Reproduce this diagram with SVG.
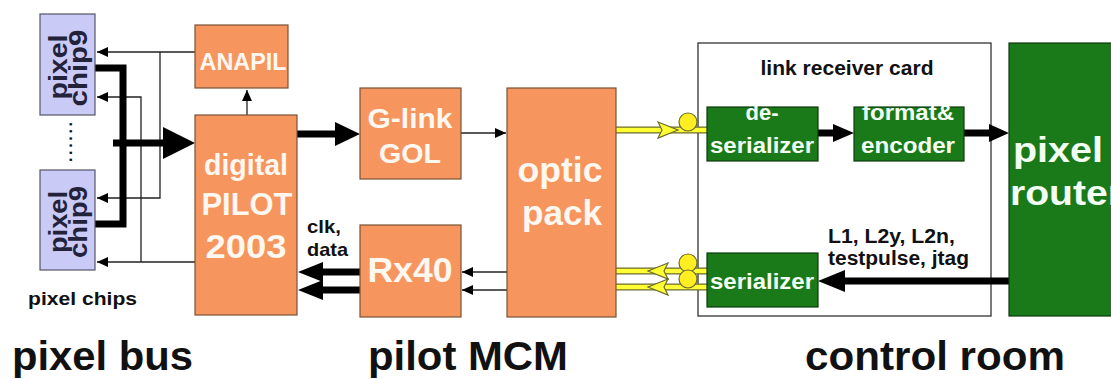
<svg xmlns="http://www.w3.org/2000/svg" width="1111" height="379" viewBox="0 0 1111 379">
<style>
text{font-family:"Liberation Sans",Arial,sans-serif;font-weight:bold}
.chip{fill:#cacaf6;stroke:#55556a;stroke-width:1.2}
.chipt{fill:#22223a;font-size:26px}
.org{fill:#f7955f;stroke:#7a5236;stroke-width:1.2}
.grn{fill:#1a7a1a;stroke:#0c3a0c;stroke-width:1.2}
.wt{fill:#fff8f0;text-anchor:middle}
.gt{fill:#f4fff4;text-anchor:middle}
.bk{fill:#111}
.thin{stroke:#222;stroke-width:1.3;fill:none}
.thick{stroke:#000;stroke-width:7;fill:none}
.ah{fill:#000}
.yo{stroke:#6b6b30;stroke-width:7;fill:none}
.yi{stroke:#ffff33;stroke-width:4.5;fill:none}
.yh{fill:#ffff33;stroke:#6b6b30;stroke-width:1.2}
.yc{fill:#ffee22;stroke:#6b6b30;stroke-width:1.2}
</style>
<defs>
<marker id="a" markerUnits="userSpaceOnUse" markerWidth="12" markerHeight="12" refX="11" refY="6" orient="auto">
<path d="M0,1 L11,6 L0,11 z" fill="#000"/>
</marker>
</defs>
<rect width="1111" height="379" fill="#fff"/>

<g id="link-receiver-card">
<rect x="698" y="43" width="293" height="273" fill="#fff" stroke="#333" stroke-width="1.3"/>
<text x="847" y="75" font-size="20" text-anchor="middle" textLength="173" lengthAdjust="spacingAndGlyphs" class="bk">link receiver card</text>
</g>

<g id="connectors">
<!-- pixel bus thin control lines -->
<polyline class="thin" points="195,52 97,52" marker-end="url(#a)"/>
<polyline class="thin" points="160,52 160,198 97,198" marker-end="url(#a)"/>
<polyline class="thin" points="195,262 97,262" marker-end="url(#a)"/>
<polyline class="thin" points="141,262 141,97 97,97" marker-end="url(#a)"/>
<!-- thick data bus -->
<polyline class="thick" points="95,68 123,68 123,224 95,224"/>
<line class="thick" x1="113" y1="143" x2="166" y2="143"/>
<polygon class="ah" points="163,127 195,143 163,159"/>
<!-- digital -> ANAPIL -->
<line class="thin" x1="247" y1="115" x2="247" y2="90" marker-end="url(#a)"/>
<!-- digital -> G-link -->
<line class="thick" x1="297" y1="134" x2="337" y2="134"/>
<polygon class="ah" points="335,122 360,134 335,146"/>
<!-- G-link -> optic -->
<line class="thin" x1="461" y1="133" x2="506" y2="133" marker-end="url(#a)"/>
<!-- optic -> Rx40 -->
<line class="thin" x1="507" y1="272" x2="462" y2="272" marker-end="url(#a)"/>
<line class="thin" x1="507" y1="290" x2="462" y2="290" marker-end="url(#a)"/>
<!-- Rx40 -> digital -->
<line class="thick" x1="360" y1="272" x2="320" y2="272"/>
<polygon class="ah" points="323,262 298,272 323,282"/>
<line class="thick" x1="360" y1="290" x2="320" y2="290"/>
<polygon class="ah" points="323,280 298,290 323,300"/>
<!-- optic fibres -->
<line class="yo" x1="616" y1="130" x2="707" y2="130"/>
<line class="yi" x1="616" y1="130" x2="707" y2="130"/>
<polygon class="yh" points="658,122 678,130 658,138 662,130"/>
<circle class="yc" cx="688" cy="122" r="9"/>
<line class="yo" x1="616" y1="271" x2="707" y2="271"/>
<line class="yi" x1="616" y1="271" x2="707" y2="271"/>
<line class="yo" x1="616" y1="287" x2="707" y2="287"/>
<line class="yi" x1="616" y1="287" x2="707" y2="287"/>
<polygon class="yh" points="668,263 648,271 668,279 664,271"/>
<polygon class="yh" points="668,279 648,287 668,295 664,287"/>
<circle class="yc" cx="688" cy="263" r="9"/>
<circle class="yc" cx="688" cy="279" r="9"/>
<!-- deserializer -> format -->
<line class="thick" x1="818" y1="133" x2="836" y2="133"/>
<polygon class="ah" points="833,124 854,133 833,142"/>
<!-- format -> router -->
<line class="thick" x1="964" y1="133" x2="992" y2="133"/>
<polygon class="ah" points="989,124 1009,133 989,142"/>
<!-- router -> serializer -->
<line class="thick" x1="1009" y1="281" x2="842" y2="281"/>
<polygon class="ah" points="845,270 818,281 845,292"/>
</g>

<g id="chip1">
<rect class="chip" x="40" y="14" width="55" height="101"/>
<text class="chipt" transform="translate(67,67) rotate(-90)" text-anchor="middle" textLength="65" lengthAdjust="spacingAndGlyphs">pixel</text>
<text class="chipt" transform="translate(87,68) rotate(-90)" text-anchor="middle" textLength="77" lengthAdjust="spacingAndGlyphs">chip9</text>
</g>
<g id="dots">
<text class="bk" font-size="16" transform="translate(72,142) rotate(-90)" text-anchor="middle" textLength="40" lengthAdjust="spacing">......</text>
</g>
<g id="chip2">
<rect class="chip" x="40" y="170" width="55" height="100"/>
<text class="chipt" transform="translate(67,222) rotate(-90)" text-anchor="middle" textLength="62" lengthAdjust="spacingAndGlyphs">pixel</text>
<text class="chipt" transform="translate(87,222) rotate(-90)" text-anchor="middle" textLength="72" lengthAdjust="spacingAndGlyphs">chip9</text>
</g>
<g id="pixel-chips-label">
<text class="bk" x="28" y="305" font-size="18" textLength="109" lengthAdjust="spacingAndGlyphs">pixel chips</text>
</g>

<g id="anapil">
<rect class="org" x="195" y="25" width="93" height="63"/>
<text class="wt" x="243" y="70" font-size="24" textLength="87" lengthAdjust="spacingAndGlyphs">ANAPIL</text>
</g>
<g id="digital-pilot">
<rect class="org" x="195" y="115" width="102" height="200"/>
<text class="wt" x="246" y="175" font-size="29" textLength="84" lengthAdjust="spacingAndGlyphs">digital</text>
<text class="wt" x="247" y="215" font-size="32" textLength="91" lengthAdjust="spacingAndGlyphs">PILOT</text>
<text class="wt" x="246" y="258" font-size="34" textLength="81" lengthAdjust="spacingAndGlyphs">2003</text>
</g>
<g id="clk-label">
<text class="bk" x="307" y="233" font-size="19" textLength="34" lengthAdjust="spacingAndGlyphs">clk,</text>
<text class="bk" x="307" y="256" font-size="19" textLength="41" lengthAdjust="spacingAndGlyphs">data</text>
</g>
<g id="glink">
<rect class="org" x="360" y="88" width="101" height="91"/>
<text class="wt" x="410" y="128" font-size="28" textLength="85" lengthAdjust="spacingAndGlyphs">G-link</text>
<text class="wt" x="410" y="163" font-size="28" textLength="62" lengthAdjust="spacingAndGlyphs">GOL</text>
</g>
<g id="rx40">
<rect class="org" x="360" y="225" width="101" height="92"/>
<text class="wt" x="410" y="282" font-size="35" textLength="85" lengthAdjust="spacingAndGlyphs">Rx40</text>
</g>
<g id="optic-pack">
<rect class="org" x="507" y="88" width="109" height="229"/>
<text class="wt" x="560" y="182" font-size="35" textLength="85" lengthAdjust="spacingAndGlyphs">optic</text>
<text class="wt" x="562" y="225" font-size="35" textLength="80" lengthAdjust="spacingAndGlyphs">pack</text>
</g>

<g id="deserializer">
<rect class="grn" x="707" y="107" width="111" height="54"/>
<text class="gt" x="762" y="120" font-size="22">de-</text>
<text class="gt" x="762" y="153" font-size="22" textLength="104" lengthAdjust="spacingAndGlyphs">serializer</text>
</g>
<g id="format-encoder">
<rect class="grn" x="854" y="107" width="110" height="54"/>
<text class="gt" x="908" y="120" font-size="22" textLength="92" lengthAdjust="spacingAndGlyphs">format&amp;</text>
<text class="gt" x="908" y="153" font-size="22" textLength="94" lengthAdjust="spacingAndGlyphs">encoder</text>
</g>
<g id="serializer">
<rect class="grn" x="707" y="253" width="111" height="54"/>
<text class="gt" x="762" y="289" font-size="22" textLength="104" lengthAdjust="spacingAndGlyphs">serializer</text>
</g>
<g id="trigger-label">
<text class="bk" x="828" y="243" font-size="20" textLength="127" lengthAdjust="spacingAndGlyphs">L1, L2y, L2n,</text>
<text class="bk" x="828" y="265" font-size="20" textLength="141" lengthAdjust="spacingAndGlyphs">testpulse, jtag</text>
</g>
<g id="pixel-router">
<rect class="grn" x="1009" y="43" width="110" height="273"/>
<text class="gt" x="1013" y="162" font-size="35" text-anchor="start" style="text-anchor:start" textLength="90" lengthAdjust="spacingAndGlyphs">pixel</text>
<text class="gt" x="1010" y="205" font-size="35" style="text-anchor:start" textLength="113" lengthAdjust="spacingAndGlyphs">router</text>
</g>

<g id="section-labels">
<text class="bk" x="12" y="370" font-size="40" textLength="181" lengthAdjust="spacingAndGlyphs">pixel bus</text>
<text class="bk" x="368" y="370" font-size="40" textLength="200" lengthAdjust="spacingAndGlyphs">pilot MCM</text>
<text class="bk" x="805" y="370" font-size="40" textLength="260" lengthAdjust="spacingAndGlyphs">control room</text>
</g>
</svg>
